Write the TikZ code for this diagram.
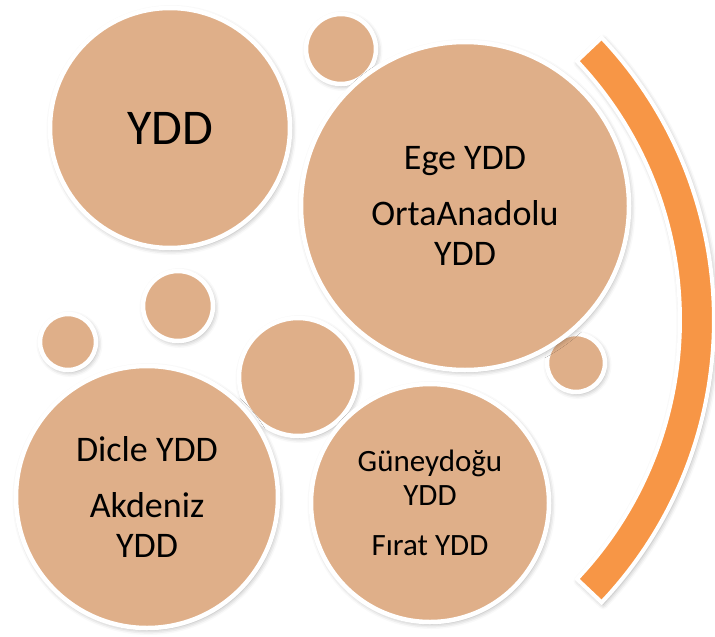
\documentclass[tikz,border=0pt]{standalone}
\usepackage{fontspec}
\setmainfont{Carlito}
\usetikzlibrary{shadows.blur}

\definecolor{bubblefill}{RGB}{223,175,137}
\definecolor{bandfill}{RGB}{247,150,70}

\begin{document}
\begin{tikzpicture}[x=1pt,y=-1pt,
  softshadow/.style={blur shadow={shadow xshift=1.5pt,shadow yshift=-2pt,shadow blur radius=5pt,shadow opacity=35}},
  bubble/.style={draw=white,line width=4.5pt,circle,fill=bubblefill,inner sep=0pt,align=center,softshadow},
  bigtext/.style={font=\fontsize{36}{40}\selectfont},
  midtext/.style={font=\fontsize{31}{34}\selectfont}]
\useasboundingbox (0,0) rectangle (715,637);
\coordinate (c) at (303,320);
\draw[draw=white,line width=4pt,fill=bandfill,line join=miter,softshadow]
  ([shift={(-43.4:377)}]c) arc[start angle=-43.4,end angle=43.4,radius=377]
  -- ([shift={(43.4:411)}]c) arc[start angle=43.4,end angle=-43.4,radius=411] -- cycle;
\node[bubble,minimum size=70pt] (s1) at (341,49) {};
\node[bubble,minimum size=58pt] (s2) at (576,363) {};
\node[bubble,minimum size=70pt] (s3) at (178,306) {};
\node[bubble,minimum size=56pt] (s4) at (68,342) {};
\node[bubble,minimum size=118pt] (m1) at (298,377) {};
\node[bubble,minimum size=240pt,font=\fontsize{50}{60}\selectfont] (ydd) at (170,128) {YDD};
\node[bubble,minimum size=328pt,bigtext] (ege) at (465,206) {Ege YDD\\[16pt]OrtaAnadolu\\YDD};
\node[bubble,minimum size=262pt,bigtext] (dicle) at (147,497) {Dicle YDD\\[16pt]Akdeniz\\YDD};
\node[bubble,minimum size=238pt,midtext] (guney) at (430,503) {Güneydoğu\\YDD\\[16pt]Fırat YDD};
\end{tikzpicture}
\end{document}
